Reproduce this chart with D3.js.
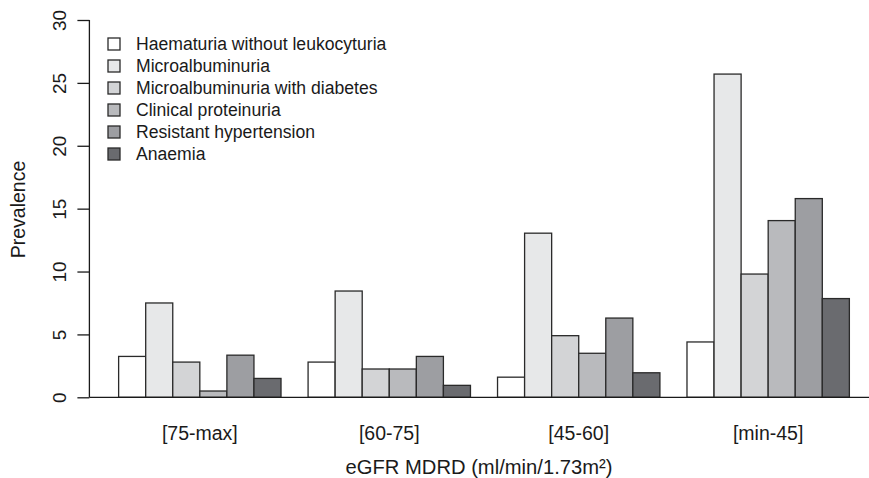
<!DOCTYPE html>
<html>
<head>
<meta charset="utf-8">
<script src="https://cdnjs.cloudflare.com/ajax/libs/d3/7.8.5/d3.min.js"></script>
<style>
  body { margin: 0; background: #fff; }
  text { font-family: "Liberation Sans", Arial, sans-serif; fill: #1a1a1a; }
</style>
</head>
<body>
<script>
var categories = ["[75-max]", "[60-75]", "[45-60]", "[min-45]"];
var seriesNames = ["Haematuria without leukocyturia", "Microalbuminuria",
  "Microalbuminuria with diabetes", "Clinical proteinuria",
  "Resistant hypertension", "Anaemia"];
var seriesColors = ["#ffffff", "#e7e8e9", "#d3d4d6", "#b9babd", "#9d9ea2", "#6a6b6f"];
// one array per series, one value per category
var haematuria = [3.25, 2.8, 1.6, 4.4];
var microalb = [7.5, 8.45, 13.05, 25.7];
var microalbDiab = [2.8, 2.25, 4.9, 9.8];
var proteinuria = [0.5, 2.25, 3.5, 14.05];
var hypertension = [3.35, 3.25, 6.3, 15.8];
var anaemia = [1.5, 0.95, 1.95, 7.85];
var yTicks = [0, 5, 10, 15, 20, 25, 30];

var series = [haematuria, microalb, microalbDiab, proteinuria, hypertension, anaemia];

var width = 869, height = 478;
var svg = d3.select("body").append("svg")
  .attr("width", width)
  .attr("height", height);

// bar units like R's barplot: 6 bars per group, one bar of space before each group
var nBars = series.length;
var groupStep = nBars + 1;
var x = d3.scaleLinear()
  .domain([-0.08, 29.08])
  .range([89.4, 878.6]);
var y = d3.scaleLinear()
  .domain([0, 30])
  .range([397.3, 20]);

var bars = [];
categories.forEach(function(c, g) {
  series.forEach(function(s, i) {
    bars.push({ g: g, i: i, v: s[g] });
  });
});

svg.selectAll("rect.bar")
  .data(bars)
  .enter()
  .append("rect")
  .attr("class", "bar")
  .attr("x", function(d) { return x(d.g * groupStep + 1 + d.i); })
  .attr("y", function(d) { return y(d.v); })
  .attr("width", x(1) - x(0))
  .attr("height", function(d) { return y(0) - y(d.v); })
  .attr("fill", function(d) { return seriesColors[d.i]; })
  .attr("stroke", "#2a2a2a")
  .attr("stroke-width", 1.3);

// baseline at 0
svg.append("line")
  .attr("x1", x(-0.08)).attr("x2", width)
  .attr("y1", y(0)).attr("y2", y(0))
  .attr("stroke", "#1a1a1a")
  .attr("stroke-width", 1.3);

// y axis
var yAxis = d3.axisLeft(y).tickValues(yTicks).tickSize(12).tickPadding(8);
var gy = svg.append("g")
  .attr("transform", "translate(" + x(-0.08) + ",0)")
  .call(yAxis);
gy.select(".domain").attr("d", "M0," + y(0) + "V" + y(30)).attr("stroke", "#1a1a1a").attr("stroke-width", 1.3);
gy.selectAll(".tick line").attr("stroke", "#1a1a1a").attr("stroke-width", 1.3);
gy.selectAll(".tick text")
  .attr("font-size", 19)
  .attr("font-family", "Liberation Sans, Arial, sans-serif")
  .attr("x", null).attr("dy", null)
  .attr("text-anchor", "middle")
  .attr("transform", "translate(-30,0) rotate(-90)")
  .attr("dy", "0.35em");

// category labels
svg.selectAll("text.cat")
  .data(categories)
  .enter()
  .append("text")
  .attr("class", "cat")
  .attr("x", function(d, g) { return x(g * groupStep + 1 + nBars / 2); })
  .attr("y", 433)
  .attr("dy", "0.35em")
  .attr("text-anchor", "middle")
  .attr("font-size", 19.5)
  .text(function(d) { return d; });

// axis titles
svg.append("text")
  .attr("x", 479)
  .attr("y", 467)
  .attr("dy", "0.35em")
  .attr("text-anchor", "middle")
  .attr("font-size", 20.2)
  .text("eGFR MDRD (ml/min/1.73m²)");

svg.append("text")
  .attr("transform", "translate(18,209.5) rotate(-90)")
  .attr("dy", "0.35em")
  .attr("text-anchor", "middle")
  .attr("font-size", 19.5)
  .text("Prevalence");

// legend
var legend = svg.selectAll("g.leg")
  .data(seriesNames)
  .enter()
  .append("g")
  .attr("class", "leg")
  .attr("transform", function(d, i) { return "translate(108," + (44 + i * 22) + ")"; });

legend.append("rect")
  .attr("x", 0).attr("y", -6)
  .attr("width", 12).attr("height", 12)
  .attr("fill", function(d, i) { return seriesColors[i]; })
  .attr("stroke", "#2a2a2a")
  .attr("stroke-width", 1.3);

legend.append("text")
  .attr("x", 28)
  .attr("dy", "0.35em")
  .attr("font-size", 17.6)
  .text(function(d) { return d; });
</script>
</body>
</html>
